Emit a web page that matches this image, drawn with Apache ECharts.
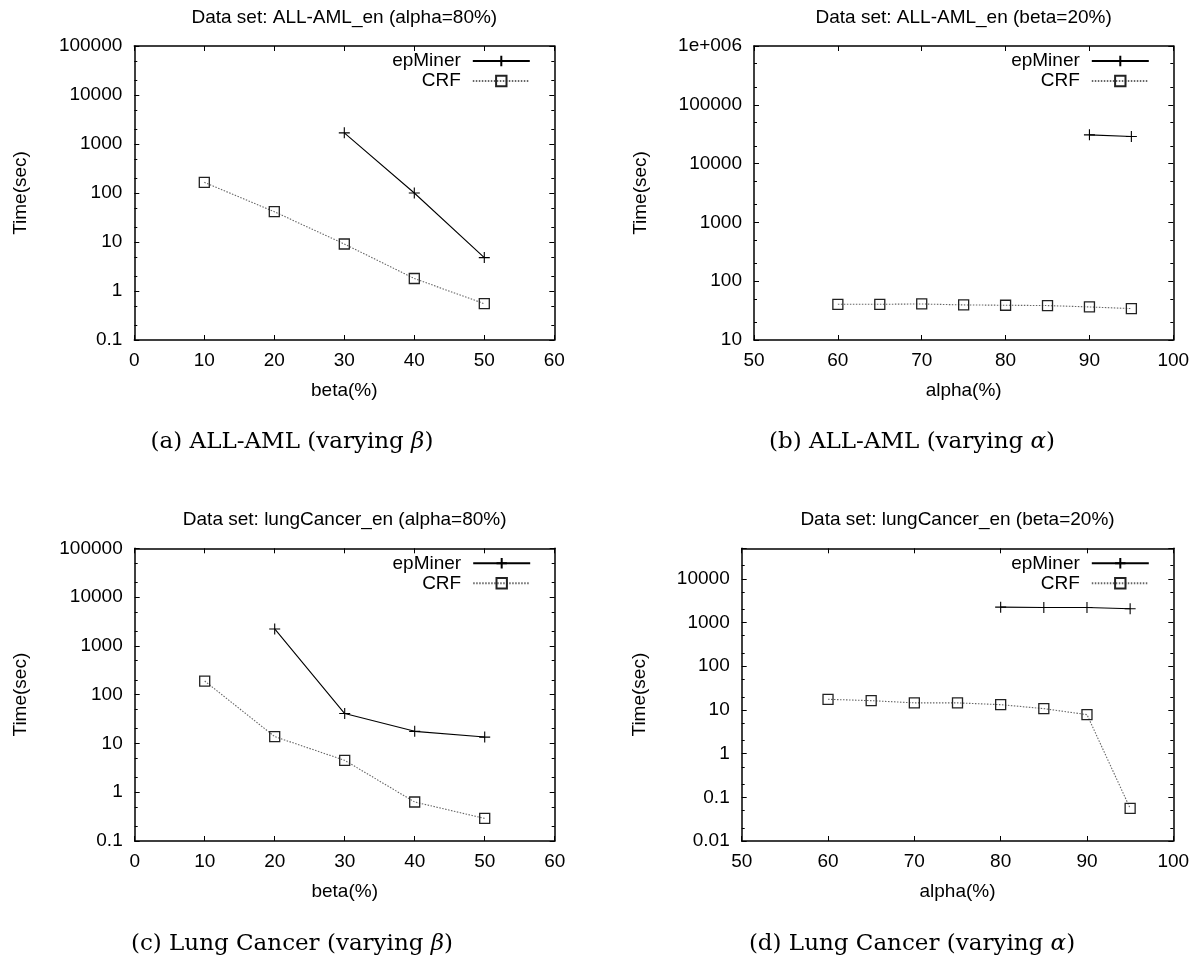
<!DOCTYPE html>
<html>
<head>
<meta charset="utf-8">
<script src="https://cdn.jsdelivr.net/npm/echarts@6/dist/echarts.min.js"></script>
<style>
html,body{margin:0;padding:0;background:#fff;}
#chart{width:1198px;height:964px;}
</style>
</head>
<body>
<div id="chart"></div>
<script>
// ---------- data ----------
const betaX = [10, 20, 30, 40, 50];
const alphaX = [60, 65, 70, 75, 80, 85, 90, 95];

const amlBetaEpX = [30, 40, 50];
const amlBetaEpY = [1690, 100, 4.8];
const amlBetaCrfY = [165, 41.5, 9.1, 1.8, 0.55];

const amlAlphaEpX = [90, 95];
const amlAlphaEpY = [30800, 28900];
const amlAlphaCrfY = [40.5, 40.5, 41, 39.5, 39, 38.5, 36.5, 34.2];

const lungBetaEpX = [20, 30, 40, 50];
const lungBetaEpY = [2220, 41, 17.7, 13.5];
const lungBetaCrfY = [190, 13.8, 4.5, 0.63, 0.29];

const lungAlphaEpX = [80, 85, 90, 95];
const lungAlphaEpY = [2250, 2210, 2210, 2070];
const lungAlphaCrfY = [17.5, 16.3, 14.5, 14.5, 13.2, 10.7, 7.8, 0.056];

const seriesNames = ['epMiner', 'CRF'];
const plotTitles = [
  'Data set: ALL-AML_en (alpha=80%)',
  'Data set: ALL-AML_en (beta=20%)',
  'Data set: lungCancer_en (alpha=80%)',
  'Data set: lungCancer_en (beta=20%)'
];
const captions = [
  '(a) ALL-AML (varying {i|β})',
  '(b) ALL-AML (varying {i|α})',
  '(c) Lung Cancer (varying {i|β})',
  '(d) Lung Cancer (varying {i|α})'
];
const xNames = ['beta(%)', 'alpha(%)', 'beta(%)', 'alpha(%)'];
const yName = 'Time(sec)';
const xRanges = [[0, 60], [50, 100], [0, 60], [50, 100]];
const yRanges = [[0.1, 100000], [10, 1000000], [0.1, 100000], [0.01, 50000]];
const bigLabel = { 1000000: '1e+006' };
const minorMultipliers = [2, 5];

// ---------- layout ----------
const grids = [
  { left: 134.3, top: 46, width: 420, height: 294 },
  { left: 754, top: 46, width: 419.3, height: 294 },
  { left: 134.7, top: 548.3, width: 420, height: 292.7 },
  { left: 741.7, top: 548.3, width: 431.6, height: 292.7 }
];
const yNameGap = [104, 104, 104, 92];

const FONT = "'Liberation Sans', Arial, sans-serif";
const SERIF = "'DejaVu Serif', 'Liberation Serif', serif";
const fs = 19;

function pairs(xs, ys) { return xs.map((x, i) => [x, ys[i]]); }
function fmtLog(v) {
  if (bigLabel[v]) return bigLabel[v];
  const l = Math.log10(v);
  if (Math.abs(l - Math.round(l)) > 1e-6) return '';
  return String(Number(v.toPrecision(6)));
}
function minorTicks(r) {
  const lo = Math.log10(r[0]), hi = Math.log10(r[1]);
  const out = [];
  for (let k = Math.floor(lo); k <= Math.ceil(hi); k++) {
    minorMultipliers.forEach(m => {
      const v = Math.log10(m) + k;
      if (v > lo + 1e-9 && v < hi - 1e-9) out.push(v);
    });
  }
  return out;
}

const lineBlack = { color: '#000', width: 1.5 };
const xAxes = [], yAxes = [], series = [], titles = [], legends = [];

grids.forEach((g, gi) => {
  const xr = xRanges[gi], yr = yRanges[gi];
  const base = { gridIndex: gi, type: 'value', min: xr[0], max: xr[1], interval: 10,
    splitLine: { show: false }, axisLine: { onZero: false, lineStyle: lineBlack } };
  xAxes.push(Object.assign({}, base, {
    position: 'bottom',
    axisTick: { inside: true, length: 5, lineStyle: { color: '#000', width: 1 } },
    axisLabel: { fontSize: fs, fontFamily: FONT, color: '#000', margin: 11 },
    name: xNames[gi], nameLocation: 'middle', nameGap: 41,
    nameTextStyle: { fontSize: fs, fontFamily: FONT, color: '#000' }
  }));
  xAxes.push(Object.assign({}, base, {
    position: 'top',
    axisTick: { inside: true, length: 5, lineStyle: { color: '#000', width: 1 } },
    axisLabel: { show: false }
  }));
  const ybase = { gridIndex: gi, type: 'log', logBase: 10, min: yr[0], max: yr[1],
    splitLine: { show: false }, minorTick: { show: false },
    axisLine: { onZero: false, lineStyle: lineBlack } };
  yAxes.push(Object.assign({}, ybase, {
    position: 'left',
    axisTick: { inside: true, length: 5, lineStyle: { color: '#000', width: 1 } },
    axisLabel: { fontSize: fs, fontFamily: FONT, color: '#000', margin: 12, formatter: fmtLog },
    name: yName, nameLocation: 'middle', nameRotate: 90, nameGap: yNameGap[gi],
    nameTextStyle: { fontSize: fs, fontFamily: FONT, color: '#000' }
  }));
  yAxes.push(Object.assign({}, ybase, {
    position: 'right',
    axisTick: { inside: true, length: 5, lineStyle: { color: '#000', width: 1 } },
    axisLabel: { show: false }
  }));
  const mt = minorTicks(yr);
  ['left', 'right'].forEach(pos => {
    yAxes.push({ gridIndex: gi, type: 'value', position: pos,
      min: Math.log10(yr[0]), max: Math.log10(yr[1]),
      splitLine: { show: false }, axisLine: { show: false, onZero: false },
      axisLabel: { show: false },
      axisTick: { show: true, inside: true, length: 3, customValues: mt,
        lineStyle: { color: '#000', width: 1 } } });
  });

  titles.push({ text: plotTitles[gi], left: g.left + g.width / 2, top: g.top - 38,
    textAlign: 'center', padding: 0,
    textStyle: { fontSize: fs, fontFamily: FONT, color: '#000', fontWeight: 'normal' } });

  legends.push({ data: seriesNames, orient: 'vertical', align: 'right',
    right: 1198 - (g.left + g.width - 23.5), top: g.top + 5, padding: 0,
    itemWidth: 57, itemHeight: 13, itemGap: 0,
    textStyle: { fontSize: fs, fontFamily: FONT, color: '#000', lineHeight: 20,
      padding: [0, 7, 0, 0] },
    selectedMode: false });
});

// captions
const capCenters = [[292, 445], [912, 445], [292, 946.6], [912, 946.6]];
capCenters.forEach((c, i) => {
  titles.push({ text: captions[i], left: c[0], top: c[1] - 14, textAlign: 'center', padding: 0,
    textStyle: { fontSize: 23, fontFamily: SERIF, color: '#000', fontWeight: 'normal',
      rich: { i: { fontSize: 23, fontFamily: SERIF, fontStyle: 'italic', color: '#000' } } } });
});

const plusSymbol = 'path://M0,5L10,5M5,0L5,10';
function epSeries(gi, data) {
  return { name: 'epMiner', type: 'line', xAxisIndex: gi * 2, yAxisIndex: gi * 4, data: data,
    symbol: plusSymbol, symbolSize: 11,
    lineStyle: { color: '#000', width: 1.1, type: 'solid' },
    itemStyle: { color: '#000', borderColor: '#000', borderWidth: 1.1 },
    emphasis: { disabled: true }, z: 3 };
}
function crfSeries(gi, data) {
  return { name: 'CRF', type: 'line', xAxisIndex: gi * 2, yAxisIndex: gi * 4, data: data,
    symbol: 'rect', symbolSize: 10,
    lineStyle: { color: '#666', width: 1.1, type: [1.5, 1.5] },
    itemStyle: { color: 'rgba(0,0,0,0)', borderColor: '#222', borderWidth: 1.3 },
    emphasis: { disabled: true }, z: 2 };
}
series.push(epSeries(0, pairs(amlBetaEpX, amlBetaEpY)));
series.push(crfSeries(0, pairs(betaX, amlBetaCrfY)));
series.push(epSeries(1, pairs(amlAlphaEpX, amlAlphaEpY)));
series.push(crfSeries(1, pairs(alphaX, amlAlphaCrfY)));
series.push(epSeries(2, pairs(lungBetaEpX, lungBetaEpY)));
series.push(crfSeries(2, pairs(betaX, lungBetaCrfY)));
series.push(epSeries(3, pairs(lungAlphaEpX, lungAlphaEpY)));
series.push(crfSeries(3, pairs(alphaX, lungAlphaCrfY)));

const chart = echarts.init(document.getElementById('chart'), null, { renderer: 'canvas' });
chart.setOption({
  backgroundColor: '#fff',
  animation: false,
  title: titles,
  legend: legends,
  grid: grids.map(g => Object.assign({ containLabel: false }, g)),
  xAxis: xAxes,
  yAxis: yAxes,
  series: series
});
</script>
</body>
</html>
